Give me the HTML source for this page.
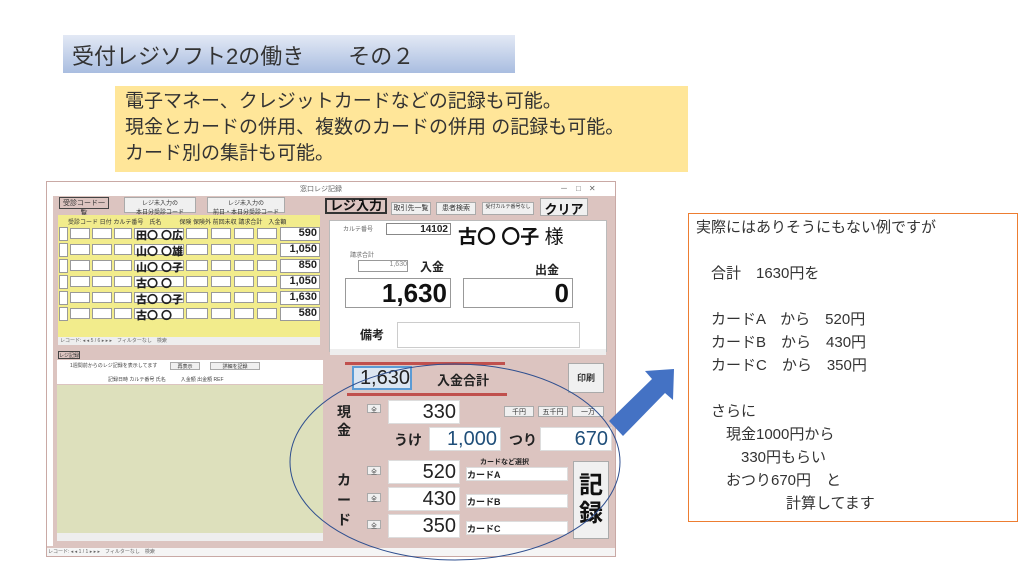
<!DOCTYPE html>
<html><head><meta charset="utf-8"><style>
*{margin:0;padding:0;box-sizing:border-box}
body{width:1024px;height:576px;background:#fff;position:relative;overflow:hidden;font-family:"Liberation Sans","Noto Sans CJK JP",sans-serif;color:#222}
.a{position:absolute}
.w{position:absolute;background:#fff;border:1px solid #999}
.b{position:absolute;background:#f0f0f0;border:1px solid #aaa;font-size:7px;text-align:center;color:#333}
.t{position:absolute;white-space:nowrap}
.r{position:absolute;left:0;width:262px;height:16px}
.r i{position:absolute;top:2px;height:11px;background:#fff;border:1px solid #999}
.r b{position:absolute;top:1px;font-size:11px;white-space:nowrap}
</style></head><body>
<div class="a" style="left:63px;top:35px;width:452px;height:38px;background:linear-gradient(#e3e9f5,#a9bde0)"></div>
<div class="t" style="left:72px;top:39px;font-size:22px;color:#333">受付レジソフト2の働き　　その２</div>
<div class="a" style="left:115px;top:86px;width:573px;height:86px;background:#ffe699"></div>
<div class="t" style="left:125px;top:89px;font-size:19px;line-height:26px;color:#333">電子マネー、クレジットカードなどの記録も可能。<br>現金とカードの併用、複数のカードの併用 の記録も可能。<br>カード別の集計も可能。</div>

<div class="a" style="left:46px;top:181px;width:570px;height:376px;background:#dcc4c0;border:1px solid #c9a9a5"></div>
<div class="a" style="left:47px;top:182px;width:568px;height:14px;background:#fff"></div>
<div class="t" style="left:300px;top:184px;font-size:7px;color:#666">窓口レジ記録</div>
<div class="t" style="left:560px;top:183px;font-size:8px;color:#666">－　□　✕</div>
<div class="a" style="left:47px;top:196px;width:6px;height:350px;background:#fff"></div>
<div class="b" style="left:59px;top:197px;width:50px;height:12px;background:#dcc4c0;border-color:#444">受診コード一覧</div>
<div class="b" style="left:124px;top:197px;width:72px;height:16px;font-size:6px">レジ未入力の<br>本日分受診コード</div>
<div class="b" style="left:207px;top:197px;width:78px;height:16px;font-size:6px">レジ未入力の<br>前日・本日分受診コード</div>
<div class="a" style="left:58px;top:215px;width:262px;height:122px;background:#f2ec8c"></div>
<div class="t" style="left:68px;top:217px;font-size:6px;color:#333">受診コード 日付 カルテ番号　氏名　　　保険 保険外 前回未収 請求合計　入金額</div>
<div class="a" style="left:58px;top:226px;width:262px;height:100px;font-weight:bold">
<div class="r" style="top:0"><i style="left:1px;width:9px;height:14px;top:1px"></i><i style="left:12px;width:20px"></i><i style="left:34px;width:20px"></i><i style="left:56px;width:18px"></i><i style="left:76px;width:50px"></i><i style="left:128px;width:22px"></i><i style="left:153px;width:20px"></i><i style="left:176px;width:20px"></i><i style="left:199px;width:20px"></i><i style="left:222px;width:40px;height:14px;top:1px"></i><b style="left:78px">田〇 〇広</b><b style="right:3px">590</b></div>
<div class="r" style="top:16px"><i style="left:1px;width:9px;height:14px;top:1px"></i><i style="left:12px;width:20px"></i><i style="left:34px;width:20px"></i><i style="left:56px;width:18px"></i><i style="left:76px;width:50px"></i><i style="left:128px;width:22px"></i><i style="left:153px;width:20px"></i><i style="left:176px;width:20px"></i><i style="left:199px;width:20px"></i><i style="left:222px;width:40px;height:14px;top:1px"></i><b style="left:78px">山〇 〇雄</b><b style="right:3px">1,050</b></div>
<div class="r" style="top:32px"><i style="left:1px;width:9px;height:14px;top:1px"></i><i style="left:12px;width:20px"></i><i style="left:34px;width:20px"></i><i style="left:56px;width:18px"></i><i style="left:76px;width:50px"></i><i style="left:128px;width:22px"></i><i style="left:153px;width:20px"></i><i style="left:176px;width:20px"></i><i style="left:199px;width:20px"></i><i style="left:222px;width:40px;height:14px;top:1px"></i><b style="left:78px">山〇 〇子</b><b style="right:3px">850</b></div>
<div class="r" style="top:48px"><i style="left:1px;width:9px;height:14px;top:1px"></i><i style="left:12px;width:20px"></i><i style="left:34px;width:20px"></i><i style="left:56px;width:18px"></i><i style="left:76px;width:50px"></i><i style="left:128px;width:22px"></i><i style="left:153px;width:20px"></i><i style="left:176px;width:20px"></i><i style="left:199px;width:20px"></i><i style="left:222px;width:40px;height:14px;top:1px"></i><b style="left:78px">古〇 〇</b><b style="right:3px">1,050</b></div>
<div class="r" style="top:64px"><i style="left:1px;width:9px;height:14px;top:1px"></i><i style="left:12px;width:20px"></i><i style="left:34px;width:20px"></i><i style="left:56px;width:18px"></i><i style="left:76px;width:50px"></i><i style="left:128px;width:22px"></i><i style="left:153px;width:20px"></i><i style="left:176px;width:20px"></i><i style="left:199px;width:20px"></i><i style="left:222px;width:40px;height:14px;top:1px"></i><b style="left:78px">古〇 〇子</b><b style="right:3px">1,630</b></div>
<div class="r" style="top:80px"><i style="left:1px;width:9px;height:14px;top:1px"></i><i style="left:12px;width:20px"></i><i style="left:34px;width:20px"></i><i style="left:56px;width:18px"></i><i style="left:76px;width:50px"></i><i style="left:128px;width:22px"></i><i style="left:153px;width:20px"></i><i style="left:176px;width:20px"></i><i style="left:199px;width:20px"></i><i style="left:222px;width:40px;height:14px;top:1px"></i><b style="left:78px">古〇 〇</b><b style="right:3px">580</b></div>
</div>
<div class="a" style="left:58px;top:337px;width:262px;height:8px;background:#eee"></div>
<div class="t" style="left:60px;top:337px;font-size:5px;color:#666">レコード: ◂ ◂ 5 / 6 ▸ ▸ ▸　フィルターなし　検索</div>
<div class="b" style="left:58px;top:351px;width:22px;height:8px;font-size:5px;border-color:#444;background:#dcc4c0">レジ記録</div>
<div class="a" style="left:57px;top:360px;width:266px;height:24px;background:#fff"></div>
<div class="t" style="left:70px;top:362px;font-size:5px;color:#444">1週間前からのレジ記録を表示してます</div>
<div class="b" style="left:170px;top:362px;width:30px;height:8px;font-size:5px">再表示</div>
<div class="b" style="left:210px;top:362px;width:50px;height:8px;font-size:5px">詳細を記録</div>
<div class="t" style="left:108px;top:376px;font-size:5px;color:#444">記録日時 カルテ番号 氏名　　　入金額 出金額 REF</div>
<div class="a" style="left:57px;top:385px;width:266px;height:148px;background:#dde0bc"></div>
<div class="a" style="left:57px;top:533px;width:266px;height:8px;background:#eee"></div>
<div class="a" style="left:47px;top:548px;width:568px;height:8px;background:#f5f5f5"></div>
<div class="t" style="left:48px;top:548px;font-size:5px;color:#666">レコード: ◂ ◂ 1 / 1 ▸ ▸ ▸　フィルターなし　検索</div>

<div class="b" style="left:325px;top:198px;width:62px;height:16px;font-size:13px;font-weight:bold;color:#111;border:2px solid #333;background:#dcc4c0;line-height:12px">レジ入力</div>
<div class="b" style="left:391px;top:202px;width:40px;height:13px">取引先一覧</div>
<div class="b" style="left:436px;top:202px;width:40px;height:13px">患者検索</div>
<div class="b" style="left:482px;top:202px;width:52px;height:13px;font-size:5px">受付カルテ番号なし</div>
<div class="b" style="left:540px;top:198px;width:48px;height:18px;font-size:13px;font-weight:bold;color:#111">クリア</div>
<div class="a" style="left:329px;top:220px;width:278px;height:132px;background:#fff;border:1px solid #bbb"></div>
<div class="t" style="left:343px;top:224px;font-size:6px;color:#666">カルテ番号</div>
<div class="w" style="left:386px;top:223px;width:65px;height:12px;font-size:10px;font-weight:bold;text-align:right;padding-right:2px;border-color:#888">14102</div>
<div class="t" style="left:458px;top:222px;font-size:19px;font-weight:bold;color:#111">古〇 〇子 <span style="font-weight:normal">様</span></div>
<div class="t" style="left:350px;top:250px;font-size:6px;color:#666">請求合計</div>
<div class="w" style="left:358px;top:260px;width:50px;height:12px;font-size:7px;text-align:right;color:#888">1,630</div>
<div class="t" style="left:420px;top:258px;font-size:12px;font-weight:bold">入金</div>
<div class="t" style="left:535px;top:261px;font-size:12px;font-weight:bold">出金</div>
<div class="w" style="left:345px;top:278px;width:106px;height:30px;font-size:26px;font-weight:bold;text-align:right;padding-right:3px;line-height:28px;color:#111">1,630</div>
<div class="w" style="left:463px;top:278px;width:110px;height:30px;font-size:26px;font-weight:bold;text-align:right;padding-right:3px;line-height:28px;color:#111">0</div>
<div class="t" style="left:360px;top:326px;font-size:12px;font-weight:bold">備考</div>
<div class="w" style="left:397px;top:322px;width:183px;height:26px;border-color:#ccc"></div>
<div class="a" style="left:330px;top:349px;width:276px;height:6px;background:#eee"></div>
<div class="a" style="left:345px;top:362px;width:160px;height:3px;background:#c0504d"></div>
<div class="a" style="left:352px;top:366px;width:60px;height:24px;background:#dce6f2;border:2px solid #5b9bd5;font-size:20px;text-align:right;line-height:20px;color:#222">1,630</div>
<div class="t" style="left:437px;top:370px;font-size:13px;font-weight:bold">入金合計</div>
<div class="a" style="left:347px;top:393px;width:160px;height:3px;background:#c0504d"></div>
<div class="b" style="left:568px;top:363px;width:36px;height:30px;font-size:9px;line-height:28px;font-weight:bold">印刷</div>
<div class="t" style="left:337px;top:403px;font-size:14px;font-weight:bold;line-height:18px">現<br>金</div>
<div class="b" style="left:367px;top:404px;width:14px;height:9px;font-size:6px">全</div>
<div class="w" style="left:388px;top:400px;width:72px;height:24px;font-size:20px;text-align:right;padding-right:3px;line-height:22px;border-color:#ddd">330</div>
<div class="b" style="left:504px;top:406px;width:30px;height:11px">千円</div>
<div class="b" style="left:538px;top:406px;width:30px;height:11px">五千円</div>
<div class="b" style="left:572px;top:406px;width:32px;height:11px">一万</div>
<div class="t" style="left:394px;top:430px;font-size:14px;font-weight:bold">うけ</div>
<div class="w" style="left:429px;top:427px;width:72px;height:24px;font-size:20px;text-align:right;padding-right:3px;line-height:22px;border-color:#ddd;color:#1f4e79">1,000</div>
<div class="t" style="left:509px;top:430px;font-size:14px;font-weight:bold">つり</div>
<div class="w" style="left:540px;top:427px;width:72px;height:24px;font-size:20px;text-align:right;padding-right:3px;line-height:22px;border-color:#ddd;color:#1f4e79">670</div>
<div class="t" style="left:337px;top:470px;font-size:14px;font-weight:bold;line-height:20px">カ<br>ー<br>ド</div>
<div class="t" style="left:480px;top:457px;font-size:7px;font-weight:bold">カードなど選択</div>
<div class="b" style="left:367px;top:466px;width:14px;height:9px;font-size:6px">全</div>
<div class="w" style="left:388px;top:460px;width:72px;height:24px;font-size:20px;text-align:right;padding-right:3px;line-height:22px;border-color:#ddd">520</div>
<div class="w" style="left:466px;top:467px;width:102px;height:14px;font-size:9px;font-weight:bold;border-color:#ddd">カードA</div>
<div class="b" style="left:367px;top:493px;width:14px;height:9px;font-size:6px">全</div>
<div class="w" style="left:388px;top:487px;width:72px;height:24px;font-size:20px;text-align:right;padding-right:3px;line-height:22px;border-color:#ddd">430</div>
<div class="w" style="left:466px;top:494px;width:102px;height:14px;font-size:9px;font-weight:bold;border-color:#ddd">カードB</div>
<div class="b" style="left:367px;top:520px;width:14px;height:9px;font-size:6px">全</div>
<div class="w" style="left:388px;top:514px;width:72px;height:24px;font-size:20px;text-align:right;padding-right:3px;line-height:22px;border-color:#ddd">350</div>
<div class="w" style="left:466px;top:521px;width:102px;height:14px;font-size:9px;font-weight:bold;border-color:#ddd">カードC</div>
<div class="b" style="left:573px;top:461px;width:36px;height:78px;font-size:24px;font-weight:bold;line-height:28px;padding-top:10px;color:#111">記<br>録</div>

<svg class="a" style="left:0;top:0" width="1024" height="576">
<ellipse cx="455" cy="462" rx="165" ry="98" fill="none" stroke="#2f4f8f" stroke-width="1"/>
<polygon points="609,421 652,379 645,371 674,369 673,400 665,393 623,436" fill="#4472c4"/>
</svg>

<div class="a" style="left:688px;top:213px;width:330px;height:309px;border:1px solid #ed7d31;background:#fff"></div>
<div class="t" style="left:696px;top:216px;font-size:15px;line-height:23px;color:#333">実際にはありそうにもない例ですが<br><br>　合計　1630円を<br><br>　カードA　から　520円<br>　カードB　から　430円<br>　カードC　から　350円<br><br>　さらに<br>　　現金1000円から<br>　　　330円もらい<br>　　おつり670円　と<br>　　　　　　計算してます</div>
</body></html>
